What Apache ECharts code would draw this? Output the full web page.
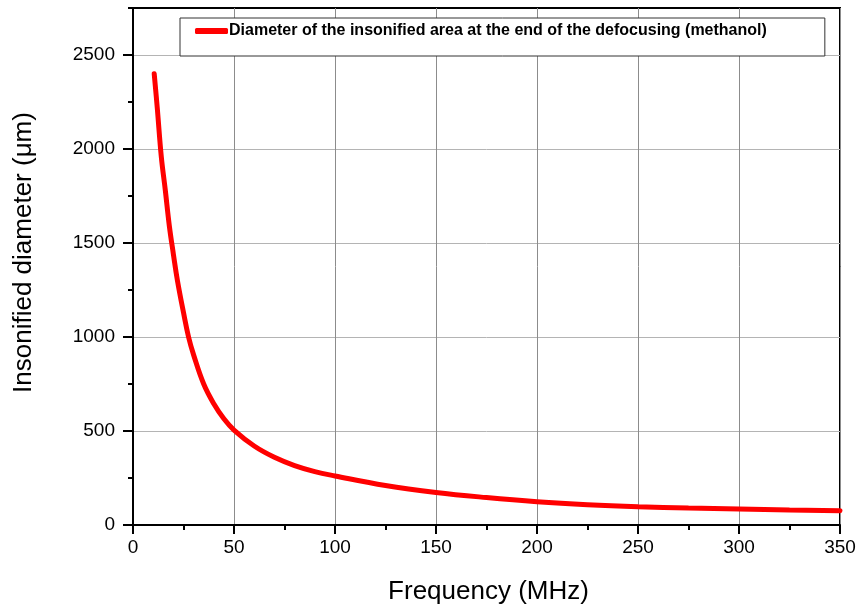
<!DOCTYPE html>
<html>
<head>
<meta charset="utf-8">
<script src="https://cdn.jsdelivr.net/npm/echarts@6/dist/echarts.min.js"></script>
<style>html,body{margin:0;padding:0;background:#fff}#c{width:861px;height:610px}</style>
</head>
<body>
<div id="c"></div>
<script>
const seriesName = 'Diameter of the insonified area at the end of the defocusing (methanol)';
const frequencyMHz = [10.5, 12, 14, 16, 18, 20, 22, 25, 27.5, 30, 35, 40, 45, 50, 60, 70, 80, 90, 100, 125, 150, 175, 200, 225, 250, 275, 300, 325, 350];
const diameterUm  = [2400, 2220, 1960, 1780, 1590, 1440, 1300, 1130, 1000, 905, 750, 645, 565, 505, 420, 360, 316, 284, 261, 210, 173, 146, 124, 108, 97, 90, 85, 80, 76];
const yMajorTicks = [0, 500, 1000, 1500, 2000, 2500];
const yMinorTicks = [250, 750, 1250, 1750, 2250, 2750];

const FONT = '"Liberation Sans", Arial, sans-serif';
const chart = echarts.init(document.getElementById('c'), null, {renderer: 'canvas'});
chart.setOption({
  backgroundColor: '#ffffff',
  animation: false,
  grid: {left: 133, right: 21, top: 8, bottom: 84, show: true, borderColor: '#000', borderWidth: 2},
  legend: {
    left: 180, top: 18,
    padding: [5, 58, 17, 15],
    itemWidth: 33, itemHeight: 6,
    icon: 'roundRect',
    backgroundColor: '#fff',
    borderColor: '#333', borderWidth: 1, borderRadius: 0,
    textStyle: {fontFamily: FONT, fontSize: 16, fontWeight: 'bold', color: '#000', padding: [0, 0, 0, -4]},
    data: [seriesName]
  },
  xAxis: {
    type: 'value', min: 0, max: 350, interval: 50,
    name: 'Frequency (MHz)', nameLocation: 'middle', nameGap: 54,
    nameTextStyle: {fontFamily: FONT, fontSize: 26, color: '#000', padding: [0, 0, 0, 4]},
    axisLine: {show: true, lineStyle: {color: '#000', width: 2}},
    axisTick: {show: true, length: 9, lineStyle: {color: '#000', width: 2}},
    minorTick: {show: true, splitNumber: 2, length: 5, lineStyle: {color: '#000', width: 2}},
    axisLabel: {fontFamily: FONT, fontSize: 19, color: '#000', margin: 13},
    splitLine: {show: true, lineStyle: {color: '#8c8c8c', width: 1}}
  },
  yAxis: [{
    type: 'value', min: 0, max: 2750, interval: 500,
    name: 'Insonified diameter (\u03bcm)', nameLocation: 'middle', nameGap: 96,
    nameTextStyle: {fontFamily: FONT, fontSize: 26, color: '#000', padding: [0, 0, 0, 28]},
    axisLine: {show: true, lineStyle: {color: '#000', width: 2}},
    axisTick: {show: true, length: 10, customValues: yMajorTicks, lineStyle: {color: '#000', width: 2}},
    axisLabel: {fontFamily: FONT, fontSize: 19, color: '#000', margin: 18, customValues: yMajorTicks,
                formatter: v => String(v)},
    splitLine: {show: true, lineStyle: {color: '#b4b4b4', width: 1}}
  }, {
    type: 'value', min: 0, max: 2750, position: 'left',
    axisLine: {show: false},
    axisTick: {show: true, length: 5, customValues: yMinorTicks, lineStyle: {color: '#000', width: 2}},
    axisLabel: {show: false},
    splitLine: {show: false}
  }],
  series: [{
    name: seriesName,
    type: 'line',
    smooth: 0.4,
    symbol: 'none',
    yAxisIndex: 0,
    color: '#ff0000',
    lineStyle: {color: '#ff0000', width: 5, cap: 'round'},
    data: frequencyMHz.map((f, i) => [f, diameterUm[i]])
  }]
});
</script>
</body>
</html>
